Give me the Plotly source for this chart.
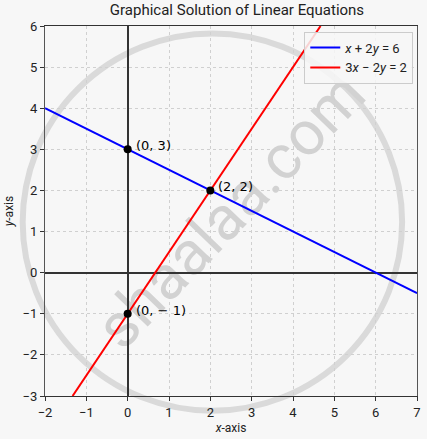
import plotly.graph_objects as go

# x range for both lines
x_vals = [-2, 7]
# x + 2y = 6  ->  y = (6 - x) / 2
blue_y = [4, -0.5]
# 3x - 2y = 2  ->  y = (3x - 2) / 2
red_x = [-1.333, 4.667]
red_y = [-3, 6]

pt_x = [0, 2, 0]
pt_y = [3, 2, -1]
pt_labels = ["(0, 3)", "(2, 2)", "(0, \u2212 1)"]

x_ticks = [-2, -1, 0, 1, 2, 3, 4, 5, 6, 7]
y_ticks = [-3, -2, -1, 0, 1, 2, 3, 4, 5, 6]

bg = "#f7f7f7"
font_family = "Roboto, 'Open Sans', sans-serif"

fig = go.Figure()

fig.add_trace(go.Scatter(x=x_vals, y=blue_y, mode="lines",
                         line=dict(color="blue", width=2),
                         name="<i>x</i> + 2<i>y</i> = 6"))
fig.add_trace(go.Scatter(x=red_x, y=red_y, mode="lines",
                         line=dict(color="red", width=2),
                         name="3<i>x</i> \u2212 2<i>y</i> = 2"))
fig.add_trace(go.Scatter(x=pt_x, y=pt_y, mode="markers",
                         marker=dict(color="black", size=8),
                         showlegend=False))

for px_, py_, lab in zip(pt_x, pt_y, pt_labels):
    fig.add_annotation(x=px_, y=py_, text=lab, showarrow=False,
                       xanchor="left", yanchor="bottom",
                       xshift=6, yshift=-6,
                       font=dict(size=13, color="black", family="DejaVu Sans"))

# watermark (kept below the data)
fig.add_shape(type="circle", xref="paper", yref="paper",
              x0=-0.06, x1=0.96, y0=-0.04, y1=0.98,
              line=dict(color="#dadada", width=6), layer="below")
fig.add_shape(type="rect", xref="paper", yref="paper",
              x0=0.19, x1=0.79, y0=0.21, y1=0.81,
              line=dict(width=0), fillcolor="rgba(0,0,0,0)", layer="below",
              label=dict(text="shaalaa.com", textangle=-46,
                         textposition="middle center",
                         font=dict(size=62, color="#d2d2d2",
                                   family="Roboto, sans-serif")))

fig.update_layout(
    width=427, height=439,
    paper_bgcolor=bg, plot_bgcolor=bg,
    margin=dict(l=45, r=10, t=26, b=43, autoexpand=False),
    font=dict(family=font_family, size=12, color="#222"),
    title=dict(text="Graphical Solution of Linear Equations",
               x=0.555, xanchor="center", y=0.99, yanchor="top",
               font=dict(size=15, color="#222")),
    legend=dict(x=0.99, y=0.985, xanchor="right", yanchor="top",
                bgcolor="rgba(247,247,247,0.85)", bordercolor="#cccccc",
                borderwidth=1, font=dict(size=13)),
    showlegend=True,
)

fig.update_xaxes(range=[-2, 7], tickvals=x_ticks, automargin=False,
                 ticktext=[str(v).replace("-", "\u2212") for v in x_ticks],
                 showgrid=True, gridcolor="#d0d0d0", griddash="dot", gridwidth=1,
                 zeroline=True, zerolinecolor="#333", zerolinewidth=1.5,
                 showline=True, linecolor="#333", linewidth=1.2, mirror=True,
                 ticks="outside", ticklen=4, tickcolor="#333",
                 title=dict(text="<i>x</i>-axis", font=dict(size=12), standoff=4),
                 tickfont=dict(size=13))
fig.update_yaxes(range=[-3, 6], tickvals=y_ticks, automargin=False,
                 ticktext=[str(v).replace("-", "\u2212") for v in y_ticks],
                 showgrid=True, gridcolor="#d0d0d0", griddash="dot", gridwidth=1,
                 zeroline=True, zerolinecolor="#333", zerolinewidth=1.5,
                 showline=True, linecolor="#555", linewidth=1.2, mirror=True,
                 ticks="outside", ticklen=4, tickcolor="#333",
                 title=dict(text="<i>y</i>-axis", font=dict(size=12), standoff=6),
                 tickfont=dict(size=13))

# drop the browser's default body margin so the figure fills the window
fig.write_html("out.html", config={"displayModeBar": False},
               post_script="document.body.style.margin='0px';")
